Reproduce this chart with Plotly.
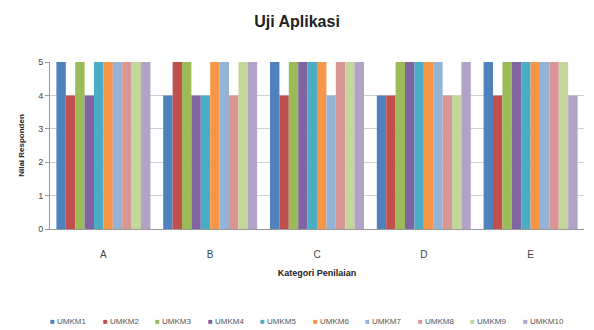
import plotly.graph_objects as go

categories = ["A", "B", "C", "D", "E"]
series_names = ["UMKM1", "UMKM2", "UMKM3", "UMKM4", "UMKM5",
                "UMKM6", "UMKM7", "UMKM8", "UMKM9", "UMKM10"]
umkm1 = [5, 4, 5, 4, 5]
umkm2 = [4, 5, 4, 4, 4]
umkm3 = [5, 5, 5, 5, 5]
umkm4 = [4, 4, 5, 5, 5]
umkm5 = [5, 4, 5, 5, 5]
umkm6 = [5, 5, 5, 5, 5]
umkm7 = [5, 5, 4, 5, 5]
umkm8 = [5, 4, 5, 4, 5]
umkm9 = [5, 5, 5, 4, 5]
umkm10 = [5, 5, 5, 5, 4]
values = [umkm1, umkm2, umkm3, umkm4, umkm5, umkm6, umkm7, umkm8, umkm9, umkm10]
y_ticks = [0, 1, 2, 3, 4, 5]

colors = ["#4F81BD", "#C0504D", "#9BBB59", "#8064A2", "#4BACC6",
          "#F79646", "#95B3D7", "#D99694", "#C3D69B", "#B3A2C7"]

font = "Liberation Sans Narrow, Arial Narrow, Liberation Sans, sans-serif"

fig = go.Figure()
for name, vals, c in zip(series_names, values, colors):
    fig.add_trace(go.Bar(x=categories, y=vals, name=name, marker_color=c,
                         marker_line_width=0, showlegend=False))

# legend drawn as a single row of text entries (as in the reference)
W, H = 594, 330
L, R, T, B = 50, 10, 62, 101
pw = W - L - R
ph = H - T - B
annotations = []
for i, (name, c) in enumerate(zip(series_names, colors)):
    xpx = 48 + 52.5 * i
    annotations.append(dict(
        x=(xpx - L) / pw, y=-(321 - (H - B)) / ph, xref="paper", yref="paper",
        xanchor="left", yanchor="middle", showarrow=False,
        text=f"<span style='color:{c};font-size:8px'>■</span> {name}",
        font=dict(family=font, size=8, color="#555")))

fig.update_layout(
    width=W, height=H,
    margin=dict(l=L, r=R, t=T, b=B, autoexpand=False),
    paper_bgcolor="white", plot_bgcolor="white",
    barmode="group", bargap=0.12, bargroupgap=0,
    title=dict(text="<b>Uji Aplikasi</b>", x=0.5, xanchor="center", y=0.935,
               yanchor="middle", font=dict(family=font, size=16, color="#222")),
    font=dict(family=font, size=9, color="#444"),
    showlegend=False,
    annotations=annotations,
    xaxis=dict(showline=True, linecolor="#999", linewidth=1, ticks="",
               ticklabelstandoff=16, tickfont=dict(size=10, color="#444"),
               title=dict(text="<b>Kategori Penilaian</b>", font=dict(size=9, color="#222"),
                          standoff=10)),
    yaxis=dict(range=[0, 5], tickvals=y_ticks, showgrid=True, gridcolor="#d0d0d0",
               showline=True, linecolor="#999", linewidth=1, ticks="outside",
               ticklen=4, tickcolor="#999", tickfont=dict(size=9, color="#444"),
               zeroline=False,
               title=dict(text="<b>Nilai Responden</b>", font=dict(size=8, color="#222"),
                          standoff=12)),
)

fig.write_html("out.html", config={"displayModeBar": False},
               post_script="document.body.style.margin='0';document.body.style.overflow='hidden';")
